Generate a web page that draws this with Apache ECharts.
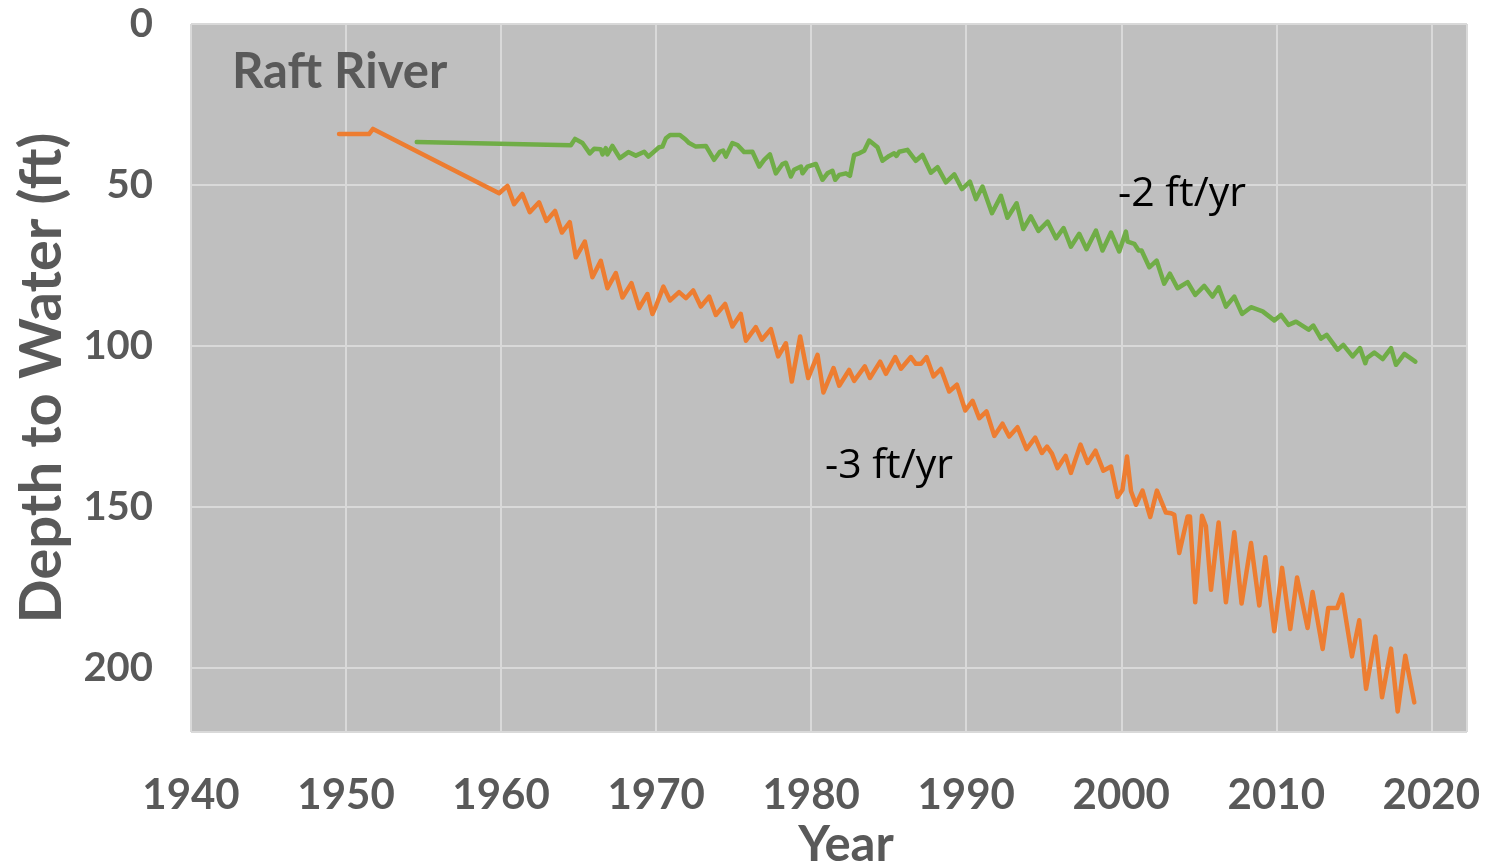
<!DOCTYPE html>
<html>
<head>
<meta charset="utf-8">
<script src="https://cdn.jsdelivr.net/npm/echarts@6/dist/echarts.min.js"></script>
<style>
  html, body { margin: 0; padding: 0; background: #fff; }
  #chart { width: 1486px; height: 865px; }
</style>
</head>
<body>
<div id="chart"></div>
<script>
// Raft River well hydrographs, depth to water (ft)
const orangeYears = [
  1949.55, 1951.48, 1951.74, 1959.87, 1960.41, 1960.84, 1961.37, 1961.85, 1962.45, 1962.92,
  1963.48, 1963.92, 1964.43, 1964.82, 1965.40, 1965.89, 1966.43, 1966.86, 1967.40, 1967.83,
  1968.41, 1968.90, 1969.44, 1969.76, 1969.98, 1970.47, 1970.90, 1971.48, 1971.92, 1972.39,
  1972.88, 1973.42, 1973.85, 1974.45, 1974.92, 1975.46, 1975.79, 1976.43, 1976.82, 1977.40,
  1977.87, 1978.37, 1978.75, 1979.29, 1979.81, 1980.41, 1980.79, 1981.44, 1981.81, 1982.45,
  1982.77, 1983.46, 1983.79, 1984.45, 1984.82, 1985.42, 1985.79, 1986.43, 1986.75, 1987.08,
  1987.44, 1987.89, 1988.37, 1988.90, 1989.40, 1989.94, 1990.41, 1990.84, 1991.31, 1991.81,
  1992.34, 1992.77, 1993.31, 1993.89, 1994.45, 1994.88, 1995.21, 1995.53, 1995.89, 1996.41,
  1996.75, 1997.37, 1997.83, 1998.34, 1998.84, 1999.34, 1999.76, 2000.08, 2000.37, 2000.63,
  2000.95, 2001.37, 2001.87, 2002.30, 2002.88, 2003.21, 2003.42, 2003.74, 2004.28, 2004.43,
  2004.77, 2005.21, 2005.46, 2005.79, 2006.28, 2006.75, 2007.29, 2007.76, 2008.37, 2008.90,
  2009.29, 2009.87, 2010.37, 2010.90, 2011.34, 2012.02, 2012.34, 2012.99, 2013.35, 2013.92,
  2014.24, 2014.88, 2015.35, 2015.79, 2016.39, 2016.82, 2017.40, 2017.83, 2018.32, 2018.90
];
const orangeDepth = [
  34.2, 34.2, 32.6, 52.6, 50.3, 56.0, 52.8, 58.5, 55.4, 61.2,
  58.1, 64.8, 61.6, 72.5, 67.6, 78.7, 73.6, 82.1, 77.4, 85.0,
  80.5, 88.3, 83.9, 90.1, 87.8, 81.6, 85.9, 83.3, 85.2, 82.8,
  87.8, 84.7, 90.4, 87.0, 94.0, 90.1, 98.4, 94.2, 98.1, 94.8,
  103.3, 99.2, 111.1, 97.1, 110.0, 102.8, 114.5, 106.9, 112.4, 107.5,
  110.9, 106.4, 110.0, 104.9, 108.7, 103.5, 107.1, 103.5, 105.6, 105.6,
  103.5, 109.5, 107.2, 114.2, 112.1, 120.1, 117.1, 122.5, 120.4, 128.0,
  124.2, 128.2, 125.3, 132.1, 128.5, 133.3, 131.3, 133.5, 138.0, 134.2,
  139.5, 130.7, 136.4, 132.6, 138.8, 137.5, 147.0, 144.7, 134.4, 145.2,
  149.4, 145.0, 153.2, 145.0, 151.8, 152.0, 152.5, 164.4, 153.0, 153.0,
  179.7, 152.8, 156.1, 175.8, 154.9, 179.7, 157.9, 180.1, 161.3, 180.7,
  165.7, 188.7, 169.0, 188.0, 172.0, 187.7, 176.5, 194.2, 181.5, 181.5,
  177.3, 196.5, 185.3, 206.6, 190.3, 209.2, 194.1, 213.6, 196.3, 210.8
];

const greenYears = [
  1954.56, 1964.50, 1964.77, 1965.25, 1965.72, 1966.00, 1966.43, 1966.54, 1966.75, 1966.86,
  1967.18, 1967.66, 1968.21, 1968.69, 1969.23, 1969.50, 1970.19, 1970.41, 1970.63, 1970.90,
  1971.53, 1971.92, 1972.13, 1972.56, 1973.21, 1973.74, 1974.11, 1974.32, 1974.50, 1974.92,
  1975.25, 1975.68, 1976.21, 1976.65, 1976.97, 1977.34, 1977.72, 1978.15, 1978.37, 1978.69,
  1978.90, 1979.34, 1979.44, 1979.76, 1980.30, 1980.73, 1981.05, 1981.37, 1981.55, 1981.81,
  1982.24, 1982.50, 1982.77, 1983.10, 1983.42, 1983.74, 1984.28, 1984.60, 1985.03, 1985.35,
  1985.50, 1985.68, 1986.21, 1986.75, 1987.18, 1987.72, 1988.15, 1988.69, 1989.23, 1989.72,
  1990.24, 1990.63, 1991.05, 1991.66, 1992.24, 1992.66, 1993.25, 1993.68, 1994.17, 1994.66,
  1995.25, 1995.79, 1996.28, 1996.75, 1997.29, 1997.76, 1998.37, 1998.79, 1999.34, 1999.87,
  2000.30, 2000.41, 2000.84, 2001.12, 2001.31, 2001.81, 2002.28, 2002.77, 2003.14, 2003.63,
  2004.28, 2004.77, 2005.35, 2005.89, 2006.28, 2006.75, 2007.29, 2007.79, 2008.37, 2009.12,
  2009.87, 2010.30, 2010.79, 2011.27, 2012.08, 2012.39, 2012.88, 2013.25, 2013.95, 2014.32,
  2014.92, 2015.40, 2015.74, 2015.85, 2016.32, 2016.86, 2017.40, 2017.72, 2018.26, 2018.97
];
const greenDepth = [
  36.7, 37.7, 35.7, 37.0, 40.2, 38.8, 38.9, 40.5, 38.6, 40.5,
  37.9, 41.7, 39.8, 40.9, 39.7, 41.2, 38.3, 38.1, 35.5, 34.5,
  34.5, 36.0, 37.0, 38.1, 37.9, 42.2, 39.7, 39.3, 41.2, 37.0,
  37.6, 39.8, 39.7, 44.3, 42.2, 40.5, 46.4, 43.5, 43.1, 47.4,
  45.3, 44.3, 46.4, 44.3, 43.5, 48.4, 46.4, 45.6, 48.4, 46.9,
  46.4, 47.2, 40.7, 40.2, 39.4, 36.2, 38.3, 42.5, 41.0, 40.2,
  41.0, 39.7, 39.1, 42.5, 40.7, 46.2, 44.5, 49.2, 46.7, 51.3,
  49.0, 54.4, 50.5, 58.8, 53.4, 60.2, 55.7, 63.7, 59.8, 64.3,
  61.4, 66.6, 63.4, 69.2, 65.2, 70.0, 64.2, 70.4, 64.8, 70.7,
  64.5, 67.6, 68.3, 70.4, 70.4, 75.6, 73.5, 80.7, 77.6, 82.1,
  80.2, 84.2, 81.4, 84.7, 81.8, 87.8, 84.7, 90.1, 88.0, 89.3,
  92.1, 90.4, 93.5, 92.5, 95.0, 93.7, 97.8, 96.6, 101.2, 99.7,
  103.3, 100.7, 105.4, 103.8, 102.1, 104.1, 100.7, 105.9, 102.5, 104.9
];

const yearTicks = [1940, 1950, 1960, 1970, 1980, 1990, 2000, 2010, 2020];
const depthTicks = [0, 50, 100, 150, 200];

const zip = (xs, ys) => xs.map((x, i) => [x, ys[i]]);

const FONT = 'Lato, "Open Sans", sans-serif';
const NOTE_FONT = '"Open Sans", Lato, sans-serif';
const GREY = '#595959';

const chart = echarts.init(document.getElementById('chart'), null, { renderer: 'canvas' });

const option = {
  animation: false,
  backgroundColor: '#ffffff',
  grid: {
    left: 191,
    right: 19,
    top: 24,
    bottom: 133,
    containLabel: false,
    outerBoundsMode: 'none',
    show: true,
    backgroundColor: '#bfbfbf',
    borderWidth: 0
  },
  xAxis: {
    type: 'value',
    min: 1940,
    max: 2022.3,
    interval: 10,
    name: 'Year',
    nameLocation: 'middle',
    nameGap: 84,
    nameTextStyle: { fontFamily: FONT, fontWeight: 'bold', fontSize: 49, color: GREY, padding: [0, 0, 0, 34] },
    axisLine: { show: false },
    axisTick: { show: false },
    axisLabel: {
      margin: 42,
      fontFamily: FONT,
      fontWeight: 'bold',
      fontSize: 42,
      color: GREY,
      formatter: v => (yearTicks.includes(v) ? String(v) : '')
    },
    splitLine: { lineStyle: { color: '#d9d9d9', width: 2 } }
  },
  yAxis: {
    type: 'value',
    inverse: true,
    min: 0,
    max: 220,
    interval: 50,
    name: 'Depth to Water (ft)',
    nameLocation: 'middle',
    nameGap: 120,
    nameTextStyle: { fontFamily: FONT, fontWeight: 'bold', fontSize: 58, color: GREY },
    axisLine: { show: false },
    axisTick: { show: false },
    axisLabel: {
      margin: 38,
      fontFamily: FONT,
      fontWeight: 'bold',
      fontSize: 40,
      color: GREY,
      formatter: v => (depthTicks.includes(v) ? String(v) : '')
    },
    splitLine: { lineStyle: { color: '#d9d9d9', width: 2 } }
  },
  series: [
    {
      name: 'Well 1',
      type: 'line',
      data: zip(orangeYears, orangeDepth),
      showSymbol: false,
      smooth: false,
      lineStyle: { color: '#ed7d31', width: 4.5, join: 'round', cap: 'round' },
      itemStyle: { color: '#ed7d31' }
    },
    {
      name: 'Well 2',
      type: 'line',
      data: zip(greenYears, greenDepth),
      showSymbol: false,
      smooth: false,
      lineStyle: { color: '#70ad47', width: 4.5, join: 'round', cap: 'round' },
      itemStyle: { color: '#70ad47' }
    }
  ],
  graphic: [
    {
      type: 'text', left: 232, top: 48, z: 100,
      style: { text: 'Raft River', fontFamily: FONT, fontWeight: 'bold', fontSize: 49, fill: GREY }
    },
    {
      type: 'text', left: 1118, top: 174, z: 100,
      style: { text: '-2 ft/yr', fontFamily: NOTE_FONT, fontSize: 41, fill: '#000000' }
    },
    {
      type: 'text', left: 825, top: 446, z: 100,
      style: { text: '-3 ft/yr', fontFamily: NOTE_FONT, fontSize: 41, fill: '#000000' }
    }
  ]
};

chart.setOption(option);
window.addEventListener('resize', () => chart.resize());
</script>
</body>
</html>
